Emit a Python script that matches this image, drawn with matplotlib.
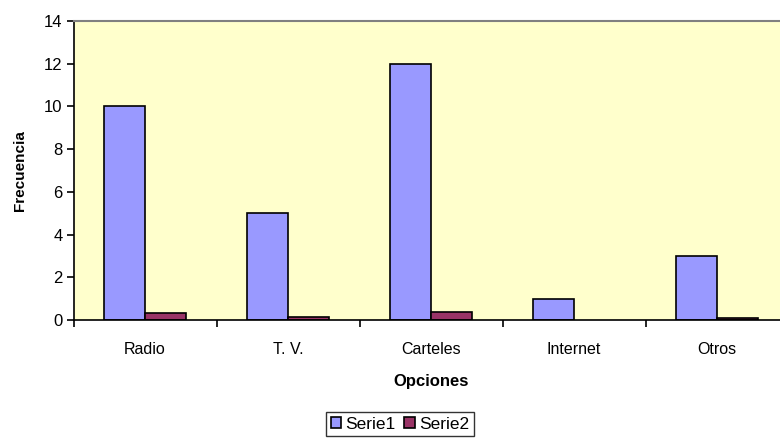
import matplotlib
matplotlib.use("Agg")
import matplotlib.pyplot as plt
import numpy as np

plt.rcParams['font.family'] = ['Liberation Sans', 'DejaVu Sans']

categories = ["Radio", "T. V.", "Carteles", "Internet", "Otros"]
serie1 = [10, 5, 12, 1, 3]
serie2 = [0.32, 0.16, 0.39, 0.0, 0.08]
yticks = [0, 2, 4, 6, 8, 10, 12, 14]

fig = plt.figure(figsize=(7.8, 4.4), dpi=100)
ax = fig.add_axes([73.5 / 780, 120 / 440, 715 / 780, 299 / 440])
ax.set_facecolor("#FFFFCC")

x = np.arange(len(categories))
w = 0.29
b1 = ax.bar(x - w / 2, serie1, w, color="#9999FF", edgecolor="black",
            linewidth=1.2, label="Serie1")
b2 = ax.bar(x + w / 2, serie2, w, color="#993366", edgecolor="black",
            linewidth=1.2, label="Serie2")
for rect, v in zip(b2, serie2):
    if v == 0:
        rect.set_visible(False)

ax.set_xlim(-0.5, len(categories) - 0.5)
ax.set_ylim(0, 14)
ax.set_yticks(yticks)
ax.set_yticklabels([str(t) for t in yticks], fontsize=12)

ax.set_xticks(x)
ax.set_xticklabels(categories, fontsize=11.5)
ax.tick_params(axis="x", which="major", length=0, pad=16)
ax.set_xticks(np.arange(-0.5, len(categories) - 0.5, 1.0), minor=True)
ax.tick_params(axis="x", which="minor", length=5, width=1.2, color="black",
               direction="out")
ax.tick_params(axis="y", length=5, width=1.2, direction="out", pad=3)

for side in ("left", "bottom"):
    ax.spines[side].set_color("black")
    ax.spines[side].set_linewidth(1.2)
ax.spines["top"].set_color("#808080")
ax.spines["top"].set_linewidth(1.5)
ax.spines["right"].set_visible(False)

ax.set_ylabel("Frecuencia", fontsize=11, fontweight="bold", labelpad=12)
ax.set_xlabel("Opciones", fontsize=12, fontweight="bold", labelpad=12)

leg = fig.legend(handles=[b1, b2], loc="center", bbox_to_anchor=(400 / 780, 1 - 424 / 440),
                 ncol=2, fontsize=12.5, frameon=True, fancybox=False,
                 handlelength=0.6, handleheight=0.6, handletextpad=0.25,
                 columnspacing=0.5, borderpad=0.25, borderaxespad=0)
leg.get_frame().set_edgecolor("black")
leg.get_frame().set_linewidth(1.0)

fig.savefig("out.png", dpi=100, facecolor="white")
